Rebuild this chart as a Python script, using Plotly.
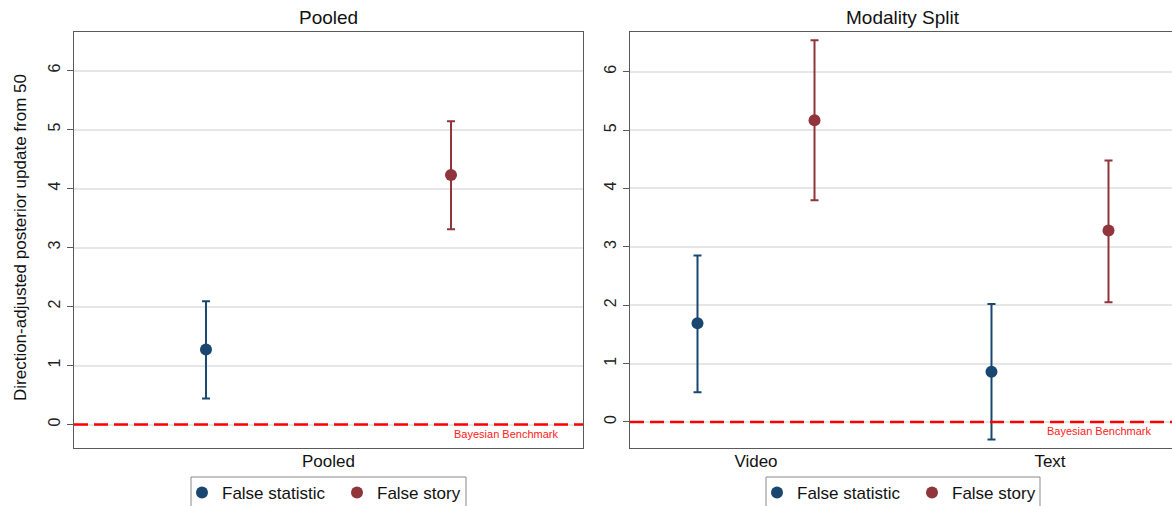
import plotly.graph_objects as go

# ---------------- data ----------------
pooled_categories = ["Pooled"]
split_categories = ["Video", "Text"]
series_names = ["False statistic", "False story"]

# Pooled panel
pooled_stat_est = [1.27]
pooled_stat_lo = [0.44]
pooled_stat_hi = [2.09]
pooled_story_est = [4.23]
pooled_story_lo = [3.31]
pooled_story_hi = [5.14]

# Modality split panel
split_stat_est = [1.69, 0.86]
split_stat_lo = [0.51, -0.30]
split_stat_hi = [2.85, 2.02]
split_story_est = [5.17, 3.28]
split_story_lo = [3.80, 2.05]
split_story_hi = [6.54, 4.48]

benchmark_value = 0
benchmark_label = "Bayesian Benchmark"
y_ticks = [0, 1, 2, 3, 4, 5, 6]
y_title = "Direction-adjusted posterior update from 50"
panel_titles = ["Pooled", "Modality Split"]

# ---------------- style ----------------
BLUE = "#1a476f"
RED = "#90353b"
FONT = "Liberation Sans, Arial, sans-serif"
W, H = 1172, 506
ML, MT, MB = 74, 32, 58
PW = W - ML
PH = H - MT - MB

def px_x(p):
    return (p - ML) / PW

def px_y(p):
    return (H - MB - p) / PH

pooled_offsets = [-0.2407, 0.2407]
split_offsets = [-0.199, 0.199]

fig = go.Figure()

def add_series(cats, offset, est, lo, hi, color, name, xa, ya, legend, xpos):
    xs = [xpos[i] + offset for i in range(len(cats))]
    fig.add_trace(go.Scatter(
        x=xs, y=est, mode="markers", name=name,
        marker=dict(color=color, size=12),
        error_y=dict(type="data", symmetric=False,
                     array=[h - e for h, e in zip(hi, est)],
                     arrayminus=[e - l for e, l in zip(est, lo)],
                     color=color, thickness=2, width=4),
        xaxis=xa, yaxis=ya, legend=legend, showlegend=True,
        hoverinfo="skip",
    ))

pooled_pos = list(range(len(pooled_categories)))
split_pos = list(range(len(split_categories)))

add_series(pooled_categories, pooled_offsets[0], pooled_stat_est, pooled_stat_lo, pooled_stat_hi,
           BLUE, series_names[0], "x", "y", "legend", pooled_pos)
add_series(pooled_categories, pooled_offsets[1], pooled_story_est, pooled_story_lo, pooled_story_hi,
           RED, series_names[1], "x", "y", "legend", pooled_pos)
add_series(split_categories, split_offsets[0], split_stat_est, split_stat_lo, split_stat_hi,
           BLUE, series_names[0], "x2", "y2", "legend2", split_pos)
add_series(split_categories, split_offsets[1], split_story_est, split_story_lo, split_story_hi,
           RED, series_names[1], "x2", "y2", "legend2", split_pos)

line_col = "#5a5a5a"
grid_col = "#e6e6e6"

yaxis_common = dict(
    tickvals=y_ticks, tickangle=-90, ticks="outside", ticklen=6, tickcolor=line_col,
    tickfont=dict(family=FONT, size=16, color="#222"),
    showgrid=True, gridcolor=grid_col, gridwidth=1.5, zeroline=False,
    showline=True, linecolor=line_col, linewidth=1.3,
)
xaxis_common = dict(
    ticks="", showgrid=False, zeroline=False, showline=True, linecolor=line_col,
    linewidth=1.3, mirror=True, tickfont=dict(family=FONT, size=17, color="#111"),
    ticklabelstandoff=-3,
)

left_dom = [0, px_x(583)]
right_dom = [px_x(630), 1.0]

legend_common = dict(orientation="h", xanchor="left", yanchor="middle", y=px_y(493),
                     borderwidth=0, bgcolor="rgba(0,0,0,0)",
                     font=dict(family=FONT, size=17, color="#111"),
                     entrywidth=110, entrywidthmode="pixels")

fig.update_layout(
    width=W, height=H,
    margin=dict(l=ML, r=0, t=MT, b=MB, autoexpand=False),
    paper_bgcolor="white", plot_bgcolor="white",
    font=dict(family=FONT, color="#111"),
    xaxis=dict(domain=left_dom, range=[-0.5, 0.5], tickvals=pooled_pos,
               ticktext=pooled_categories, anchor="y", **xaxis_common),
    xaxis2=dict(domain=right_dom, range=[-0.4286, 1.415], tickvals=split_pos,
                ticktext=split_categories, anchor="y2", **xaxis_common),
    yaxis=dict(domain=[0, 1], range=[-0.398, 6.653], anchor="x", mirror=True, **yaxis_common),
    yaxis2=dict(domain=[0, 1], range=[-0.446, 6.68], anchor="x2", mirror=False, **yaxis_common),
    legend=dict(x=px_x(182), **legend_common),
    legend2=dict(x=px_x(757), **legend_common),
    showlegend=True,
)

# legend frames
for x0, x1 in [(191, 466), (766, 1040)]:
    fig.add_shape(type="rect", xref="paper", yref="paper",
                  x0=px_x(x0), x1=px_x(x1), y0=px_y(477), y1=px_y(515),
                  line=dict(color="#8a8a8a", width=1), fillcolor="rgba(0,0,0,0)")

# benchmark lines
for xa, ya in [("x", "y"), ("x2", "y2")]:
    fig.add_shape(type="line", xref=f"{xa} domain", yref=ya, x0=0, x1=1,
                  y0=benchmark_value, y1=benchmark_value,
                  line=dict(color="#ff0000", width=2.5, dash="14px,6px"), layer="above")

# benchmark labels
fig.add_annotation(x=0.5 - 23.5 / 509, y=benchmark_value, xref="x", yref="y",
                   text=benchmark_label, showarrow=False, xanchor="right", yanchor="top",
                   yshift=-1, font=dict(family=FONT, size=11, color="#ff2020"))
fig.add_annotation(x=1 + 103 / 294, y=benchmark_value, xref="x2", yref="y2",
                   text=benchmark_label, showarrow=False, xanchor="right", yanchor="top",
                   yshift=-1, font=dict(family=FONT, size=11, color="#ff2020"))

# panel titles
fig.add_annotation(x=px_x(328.5), y=px_y(17), xref="paper", yref="paper",
                   text=panel_titles[0], showarrow=False, xanchor="center", yanchor="middle",
                   font=dict(family=FONT, size=19, color="#111"))
fig.add_annotation(x=px_x(903), y=px_y(17), xref="paper", yref="paper",
                   text=panel_titles[1], showarrow=False, xanchor="center", yanchor="middle",
                   font=dict(family=FONT, size=19, color="#111"))

# y-axis title
fig.add_annotation(x=px_x(20), y=px_y(238), xref="paper", yref="paper",
                   text=y_title, showarrow=False, textangle=-90,
                   xanchor="center", yanchor="middle",
                   font=dict(family=FONT, size=17, color="#111"))

fig.write_html("out.html")
